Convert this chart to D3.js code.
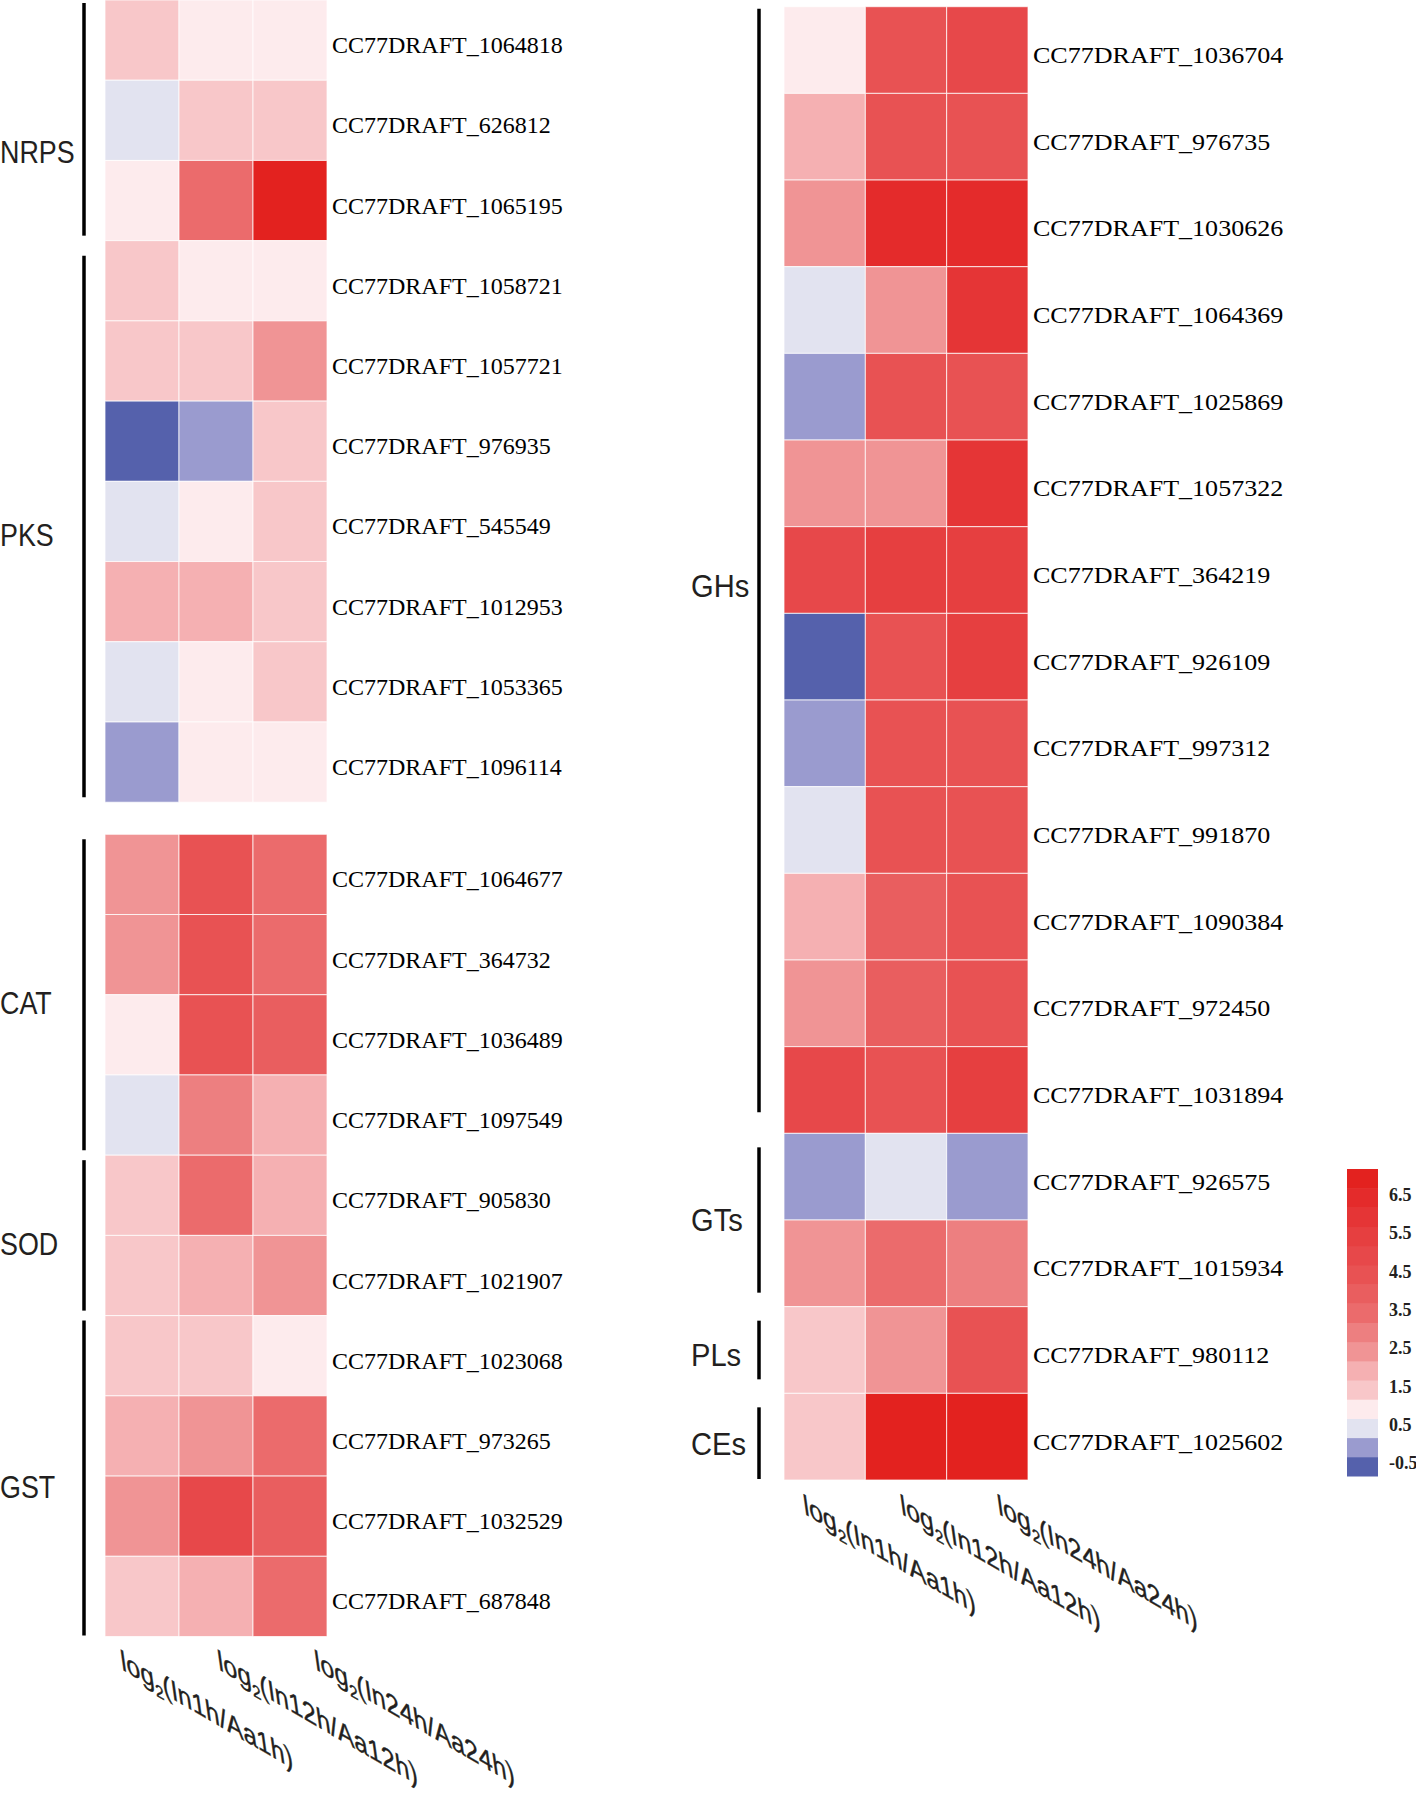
<!DOCTYPE html>
<html><head><meta charset="utf-8">
<script src="https://cdn.jsdelivr.net/npm/d3@7"></script>
<style>html,body{margin:0;padding:0;background:#fff}</style>
</head><body><svg id="chart" width="1416" height="1794"></svg>
<script>
// ---------- DATA ----------
const columns = ["1h", "12h", "24h"];
const columnLabels = ["(In1h/Aa1h)", "(In12h/Aa12h)", "(In24h/Aa24h)"];

const leftGroupNames = ["NRPS", "PKS", "CAT", "SOD", "GST"];
const leftGroupSizes = [3, 7, 4, 2, 4];
const leftGenes = [
  "CC77DRAFT_1064818", "CC77DRAFT_626812", "CC77DRAFT_1065195",
  "CC77DRAFT_1058721", "CC77DRAFT_1057721", "CC77DRAFT_976935", "CC77DRAFT_545549",
  "CC77DRAFT_1012953", "CC77DRAFT_1053365", "CC77DRAFT_1096114",
  "CC77DRAFT_1064677", "CC77DRAFT_364732", "CC77DRAFT_1036489", "CC77DRAFT_1097549",
  "CC77DRAFT_905830", "CC77DRAFT_1021907",
  "CC77DRAFT_1023068", "CC77DRAFT_973265", "CC77DRAFT_1032529", "CC77DRAFT_687848"
];
const leftValues1h  = [1.5, 0.5, 1.0, 1.5, 1.5, -0.5, 0.5, 2.0, 0.5, 0.0, 2.5, 2.5, 1.0, 0.5, 1.5, 1.5, 1.5, 2.0, 2.5, 1.5];
const leftValues12h = [1.0, 1.5, 3.5, 1.0, 1.5, 0.0, 1.0, 2.0, 1.0, 1.0, 4.5, 4.5, 4.5, 3.0, 3.5, 2.0, 1.5, 2.5, 5.0, 2.0];
const leftValues24h = [1.0, 1.5, 7.0, 1.0, 2.5, 1.5, 1.5, 1.5, 1.5, 1.0, 3.5, 3.5, 4.0, 2.0, 2.0, 2.5, 1.0, 3.5, 4.0, 3.5];

const rightGroupNames = ["GHs", "GTs", "PLs", "CEs"];
const rightGroupSizes = [13, 2, 1, 1];
const rightGenes = [
  "CC77DRAFT_1036704", "CC77DRAFT_976735", "CC77DRAFT_1030626", "CC77DRAFT_1064369",
  "CC77DRAFT_1025869", "CC77DRAFT_1057322", "CC77DRAFT_364219", "CC77DRAFT_926109",
  "CC77DRAFT_997312", "CC77DRAFT_991870", "CC77DRAFT_1090384", "CC77DRAFT_972450",
  "CC77DRAFT_1031894",
  "CC77DRAFT_926575", "CC77DRAFT_1015934",
  "CC77DRAFT_980112",
  "CC77DRAFT_1025602"
];
const rightValues1h  = [1.0, 2.0, 2.5, 0.5, 0.0, 2.5, 5.0, -0.5, 0.0, 0.5, 2.0, 2.5, 5.0, 0.0, 2.5, 1.5, 1.5];
const rightValues12h = [4.5, 4.5, 6.5, 2.5, 4.5, 2.5, 5.5, 4.5, 4.5, 4.5, 4.0, 4.0, 4.5, 0.5, 3.5, 2.5, 7.0];
const rightValues24h = [5.0, 4.5, 6.5, 6.0, 4.5, 6.0, 5.5, 5.5, 4.5, 4.5, 4.5, 4.5, 5.5, 0.0, 3.0, 4.5, 7.0];

const legendTicks = [-0.5, 0.5, 1.5, 2.5, 3.5, 4.5, 5.5, 6.5];
const legendColors = ["#5561ac", "#9a9bcf", "#e2e3f0", "#fdebed", "#f8c7c9", "#f5b0b2",
  "#f09495", "#ed7f80", "#eb6b6c", "#e95e5f", "#e85253", "#e7484a", "#e63f40",
  "#e53536", "#e42b2b", "#e3221f"];

// ---------- SCALES ----------
const color = d3.scaleQuantize().domain([-0.75, 7.25]).range(legendColors);
const svg = d3.select("#chart");
const INK = "#231f20";

function drawPanel(o) {
  const g = svg.append("g");
  const nRows = o.genes.length;
  const groupStarts = [];
  let acc = 0;
  o.groupSizes.forEach(s => { groupStarts.push(acc); acc += s; });
  const slotOf = i => i + (o.gapBeforeRow != null && i >= o.gapBeforeRow ? o.gap : 0);
  const totalSlots = slotOf(nRows - 1) + 1;
  const y = d3.scaleLinear().domain([0, totalSlots]).range(o.yRange);
  const rowH = y(1) - y(0);
  const x = d3.scaleBand().domain(columns).range(o.xRange);

  const rows = o.genes.map((gene, i) => ({
    gene, i, vals: [o.v1[i], o.v2[i], o.v3[i]]
  }));
  const cells = [];
  rows.forEach(r => r.vals.forEach((v, j) => cells.push({i: r.i, col: columns[j], v})));

  g.selectAll("rect.cell").data(cells).join("rect")
    .attr("class", "cell")
    .attr("x", d => x(d.col))
    .attr("y", d => y(slotOf(d.i)))
    .attr("width", x.bandwidth())
    .attr("height", rowH)
    .attr("fill", d => color(d.v))
    .attr("stroke", "#ffffff")
    .attr("stroke-opacity", 0.75)
    .attr("stroke-width", 1);

  g.selectAll("text.gene").data(rows).join("text")
    .attr("class", "gene")
    .attr("transform", d => `translate(${o.xRange[1] + 5},${y(slotOf(d.i)) + rowH / 2 + 13}) scale(${o.geneScaleX},1)`)
    .attr("font-family", "'Liberation Serif', 'Times New Roman', serif")
    .attr("font-size", 24)
    .attr("fill", "#000")
    .text(d => d.gene);

  const groups = o.groupNames.map((name, k) => {
    const s = groupStarts[k], e = s + o.groupSizes[k] - 1;
    return {name, top: y(slotOf(s)), bottom: y(slotOf(e) + 1)};
  });
  g.selectAll("line.grp").data(groups).join("line")
    .attr("x1", o.barX).attr("x2", o.barX)
    .attr("y1", d => d.top + (o.insetTop[d.name] ?? o.inset))
    .attr("y2", d => d.bottom - (o.insetBottom[d.name] ?? o.inset))
    .attr("stroke", "#000").attr("stroke-width", 3.5);

  g.selectAll("text.grp").data(groups).join("text")
    .attr("transform", d => `translate(${o.groupLabelX},${(d.top + d.bottom) / 2 + 19.5 + (o.labelShift[d.name] || 0)}) scale(${o.groupScaleX},1)`)
    .attr("font-family", "'Liberation Sans', Arial, sans-serif")
    .attr("font-size", 32)
    .attr("fill", INK)
    .text(d => d.name);

  // slanted column labels
  const baseY = o.yRange[1] + o.labelDy;
  const lab = g.selectAll("text.col").data(columnLabels).join("text")
    .attr("transform", (d, j) => `translate(${x(columns[0]) + x.bandwidth() / 2 - 20 + j * 97},${baseY}) matrix(0.86,0.5,0.14,1.0,0,0)`)
    .attr("font-family", "'Liberation Sans', Arial, sans-serif")
    .attr("font-size", 29)
    .attr("fill", INK)
    .attr("stroke", INK)
    .attr("stroke-width", 0.4);
  lab.append("tspan").text("log");
  lab.append("tspan").attr("font-size", 18).attr("dy", 7).text("2");
  lab.append("tspan").attr("dy", -7).text(d => d);
}

drawPanel({
  genes: leftGenes, v1: leftValues1h, v2: leftValues12h, v3: leftValues24h,
  groupNames: leftGroupNames, groupSizes: leftGroupSizes,
  gapBeforeRow: 10, gap: 0.4,
  xRange: [105, 327], yRange: [0, 1636.5],
  barX: 84, inset: 5, insetTop: {NRPS: 3, PKS: 15}, insetBottom: {GST: 1},
  groupLabelX: 0, groupScaleX: 0.84, geneScaleX: 1.0, labelDy: 33,
  labelShift: {NRPS: 23, PKS: 5, GST: 2}
});

drawPanel({
  genes: rightGenes, v1: rightValues1h, v2: rightValues12h, v3: rightValues24h,
  groupNames: rightGroupNames, groupSizes: rightGroupSizes,
  gapBeforeRow: null, gap: 0,
  xRange: [784, 1028], yRange: [6.7, 1480],
  barX: 759, inset: 14, insetTop: {GHs: 2}, insetBottom: {GHs: 21, CEs: 1},
  groupLabelX: 691, groupScaleX: 0.91, geneScaleX: 1.085, labelDy: 34,
  labelShift: {GHs: 7, GTs: -9, PLs: -4, CEs: -1}
});

// ---------- LEGEND ----------
const lg = svg.append("g");
const ly = d3.scaleLinear().domain([-0.75, 7.25]).range([1476, 1169]);
const bands = legendColors.map((c, k) => ({c, lo: -0.75 + 0.5 * k, hi: -0.25 + 0.5 * k}));
lg.selectAll("rect").data(bands).join("rect")
  .attr("x", 1347).attr("width", 31)
  .attr("y", d => ly(d.hi)).attr("height", d => ly(d.lo) - ly(d.hi) + 0.5)
  .attr("fill", d => d.c);
lg.selectAll("text").data(legendTicks).join("text")
  .attr("x", 1389)
  .attr("y", d => ly(d) + 3)
  .attr("font-family", "'Liberation Serif', 'Times New Roman', serif")
  .attr("font-weight", "bold")
  .attr("font-size", 18)
  .attr("fill", INK)
  .text(d => d.toFixed(1));
</script></body></html>
